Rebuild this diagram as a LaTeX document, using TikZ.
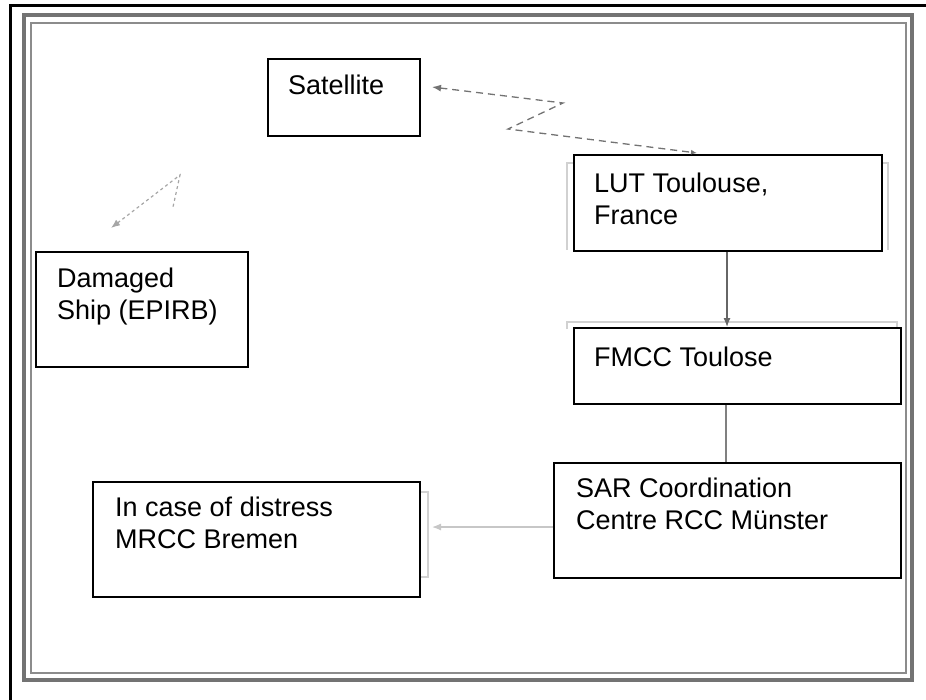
\documentclass[tikz,border=0pt]{standalone}
\usepackage{fontspec}
\setmainfont{Liberation Sans}
\usetikzlibrary{arrows.meta}
\begin{document}
\begin{tikzpicture}[x=1pt,y=-1pt,
  boxnode/.style={draw=black,line width=1.6pt,fill=white,anchor=north west,inner sep=0pt},
  txt/.style={anchor=north west,inner sep=0pt,align=left,font=\fontsize{27}{31.5}\selectfont},
  faint/.style={draw=black!18,line width=1.2pt},
  tip/.style={-{Latex[length=9pt,width=7pt]}}]
\useasboundingbox (0,0) rectangle (926,699);
% outer black border
\draw[line width=3pt,line cap=rect] (926,5) -- (10,5) -- (10,699);
% grey double frame
\draw[draw=black!55,line width=3.2pt] (24,15) rectangle (912,680);
\draw[draw=black!45,line width=1.4pt] (31,23) rectangle (906,673);
% faint frame shadows
\draw[faint] (573,163) -- (567,163) -- (567,250) (881,163) -- (888,163) -- (888,250);
\draw[faint] (567,329) -- (567,322) -- (897,322) -- (897,329);
\draw[faint] (419,492) -- (428,492) -- (428,577) -- (419,577);
% boxes
\node[boxnode,minimum width=152pt,minimum height=77pt] (sat) at (267,58) {};
\node[boxnode,minimum width=308pt,minimum height=96pt] (lut) at (573,154) {};
\node[boxnode,minimum width=327pt,minimum height=76pt] (fmcc) at (573,327) {};
\node[boxnode,minimum width=347pt,minimum height=115pt] (sar) at (553,462) {};
\node[boxnode,minimum width=327pt,minimum height=115pt] (mrcc) at (92,481) {};
\node[boxnode,minimum width=212pt,minimum height=115pt] (ship) at (35,251) {};
% texts
\node[txt] (satt) at (288,75) {Satellite};
\node[txt] (lutt) at (594,173) {LUT Toulouse,\\France};
\node[txt] (fmcct) at (594,347) {FMCC Toulose};
\node[txt] (sart) at (576,478) {SAR Coordination\\Centre RCC Münster};
\node[txt] (mrcct) at (115,497) {In case of distress\\MRCC Bremen};
\node[txt] (shipt) at (57,268) {Damaged\\Ship (EPIRB)};
% connectors
\coordinate (satend) at (432,87);
\coordinate (lutend) at (697,153);
\coordinate (z1) at (563,103);
\coordinate (z2) at (508,129);
\draw[draw=black!55,line width=1.3pt,dash pattern=on 7pt off 5pt,
  {Latex[length=9pt,width=7pt]}-{Latex[length=6pt,width=5pt]}]
  (satend) -- (z1) -- (z2) -- (lutend);
\coordinate (shipend) at (111,228);
\coordinate (s1) at (180,175);
\coordinate (s2) at (173,207);
\draw[draw=black!35,line width=1.2pt,dash pattern=on 3pt off 3pt,
  {Latex[length=9pt,width=7pt]}-]
  (shipend) -- (s1) -- (s2);
\draw[draw=black!60,line width=1.2pt,tip] (lut.south -| 727,0) -- (fmcc.north -| 727,0);
\draw[draw=black!50,line width=1.2pt] (fmcc.south -| 726,0) -- (sar.north -| 726,0);
\draw[draw=black!22,line width=1.2pt,tip] (sar.west |- 0,527) -- (432,527);
\end{tikzpicture}
\end{document}
